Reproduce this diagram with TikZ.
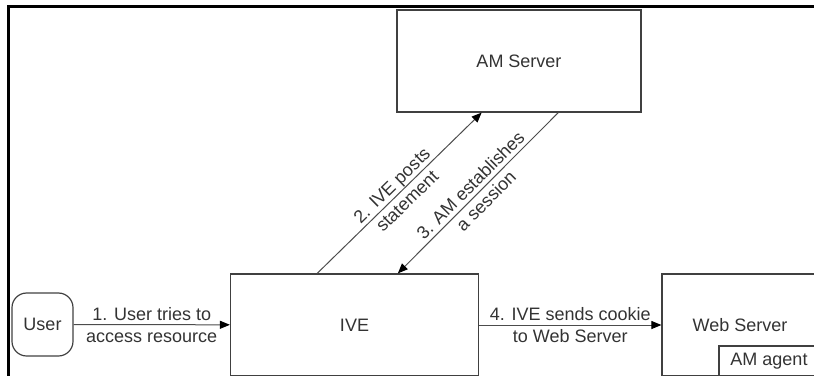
\documentclass[tikz,border=0pt]{standalone}
\usepackage{fontspec}
\setmainfont{Liberation Sans}
\usetikzlibrary{arrows.meta}
\begin{document}
\begin{tikzpicture}[x=0.75pt, y=-0.75pt, every node/.style={font=\fontsize{13.5}{16.5}\selectfont, text=black!80},
  box/.style={draw=black!75,line width=0.9pt,inner sep=0pt},
  flow/.style={draw=black!70,line width=0.75pt,-{Triangle[length=7.5pt,width=6pt,color=black]}},
  lbl/.style={midway,align=center,inner sep=0pt}]
\useasboundingbox (0,0) rectangle (814,375);
\clip (0,0) rectangle (814,375);
\draw[line width=2.25pt] (8,6.5) rectangle (830,400);
\node[box,minimum width=183pt,minimum height=76.5pt] (am) at (519,61) {AM Server};
\node[box,minimum width=186pt,minimum height=76.5pt] (ive) at (354.5,325) {IVE};
\node[box,minimum width=117pt,minimum height=76.5pt] (web) at (740,325) {Web Server};
\node[box,minimum width=75pt,minimum height=22.5pt] (agent) at (769,361) {AM agent};
\node[box,rounded corners=11pt,minimum width=45.75pt,minimum height=47.25pt] (user) at (42.5,324.5) {User};
\draw[flow] (user) -- (ive) node[lbl] {1. User tries to\\access resource};
\draw[flow] ([xshift=-28pt]ive.north) -- ([xshift=-28pt]am.south) node[lbl,sloped] {2. IVE posts\\statement};
\draw[flow] ([xshift=29.5pt]am.south) -- ([xshift=32.5pt]ive.north) node[lbl,sloped] {3. AM establishes\\a session};
\draw[flow] (ive) -- (web) node[lbl] {4. IVE sends cookie\\to Web Server};
\end{tikzpicture}
\end{document}
